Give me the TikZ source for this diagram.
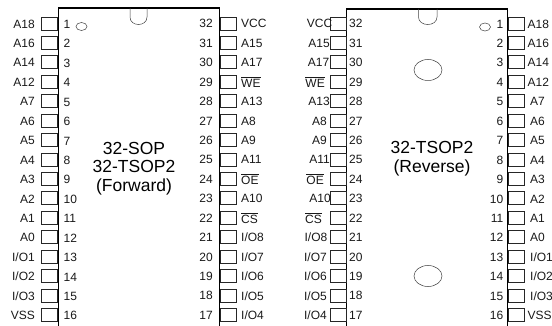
\documentclass[tikz,border=0pt]{standalone}
\usepackage{fontspec}
\setmainfont{Liberation Sans}
\newcommand{\ovl}[1]{$\overline{\mbox{#1}}$}
\tikzset{
  pinbox/.style={draw=black!85,line width=0.8pt,fill=white,minimum width=16pt,minimum height=13pt,inner sep=0pt,outer sep=0pt},
  body/.style={line width=1.6pt,draw=black},
  lab/.style={font=\fontsize{12}{12}\selectfont,inner sep=0pt,text=black!90},
  chiptitle/.style={font=\fontsize{17.5}{18.5}\selectfont,inner sep=0pt,align=center},
  markline/.style={draw=black!75,line width=0.5pt}
}
\begin{document}
\begin{tikzpicture}[x=1pt,y=-1pt]
\useasboundingbox (0,0) rectangle (552,326);
% chip outlines
\draw[body] (58.5,326) -- (58.5,8) -- (219.5,8) -- (219.5,326);
\draw[body] (346.5,326) -- (346.5,9) -- (507.5,9) -- (507.5,326);
% notches
\draw[markline] (130,8) -- (130,17) .. controls (130,27) and (147,27) .. (147,17) -- (147,8);
\draw[markline] (418.5,9) -- (418.5,17) .. controls (418.5,27) and (437,27) .. (437,17) -- (437,9);
% index marks
\draw[markline] (81.5,26.5) ellipse (5.5 and 4);
\draw[markline] (485,27) ellipse (5.5 and 4);
\draw[markline] (428,70) ellipse (14 and 10.5);
\draw[markline] (428,276) ellipse (14 and 10.5);
% titles
\node[chiptitle] (t1) at (134,168.5) {32-SOP\\32-TSOP2\\(Forward)};
\node[chiptitle] (t2) at (432,158.5) {32-TSOP2\\(Reverse)};
% number / label / opposite number / opposite label / reverse left label end / reverse right label start
\foreach \n/\l/\m/\r/\xa/\xb [count=\i from 0] in {
 1/A18/32/VCC/332.5/527.5, 2/A16/31/A15/330/527.5, 3/A14/30/A17/329.5/527.5, 4/A12/29/\ovl{WE}/325/527.5,
 5/A7/28/A13/330/530, 6/A6/27/A8/327/530, 7/A5/26/A9/327/530, 8/A4/25/A11/330/530,
 9/A3/24/\ovl{OE}/324/530, 10/A2/23/A10/331/530, 11/A1/22/\ovl{CS}/322/530, 12/A0/21/I\slash O8/327.5/530,
 13/I\slash O1/20/I\slash O7/327/530, 14/I\slash O2/19/I\slash O6/327/530, 15/I\slash O3/18/I\slash O5/327/530, 16/VSS/17/I\slash O4/327/527.5}
{
 \pgfmathsetmacro{\yy}{23.5+19.43*\i}
 % forward part
 \node[pinbox] (fl\n) at (49.5,\yy) {};
 \node[pinbox] (fr\m) at (228.5,\yy) {};
 \node[lab,anchor=west] (fln\n) at (63.5,\yy+0.8) {\n};
 \node[lab,anchor=east] (fll\n) at (35,\yy+0.5) {\l};
 \node[lab,anchor=east] (frn\m) at (213,\yy+0.3) {\m};
 \node[lab,anchor=west] (frl\m) at (241,\yy+0.3) {\r};
 % reverse part
 \node[pinbox] (rl\m) at (338,\yy) {};
 \node[pinbox] (rr\n) at (516,\yy) {};
 \node[lab,anchor=west] (rln\m) at (349,\yy+0.3) {\m};
 \node[lab,anchor=east] (rll\m) at (\xa,\yy+0.3) {\r};
 \node[lab,anchor=east] (rrn\n) at (503.5,\yy+0.5) {\n};
 \node[lab,anchor=west] (rrl\n) at (\xb,\yy+0.5) {\l};
}
\end{tikzpicture}
\end{document}
